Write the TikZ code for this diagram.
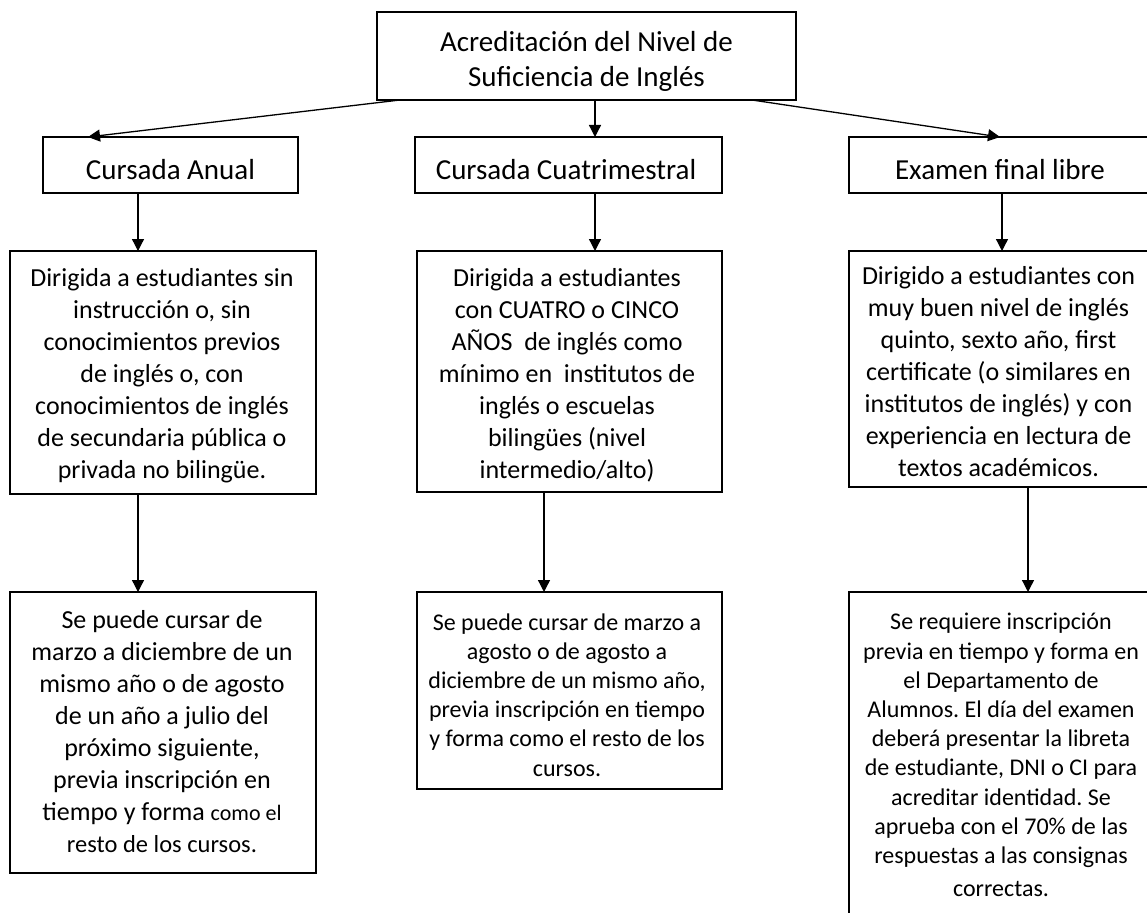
\documentclass[tikz,border=0pt]{standalone}
\usepackage{fontspec}
\setmainfont{Carlito}
\usetikzlibrary{arrows.meta}
\frenchspacing
\newcommand\szBig{\fontsize{29}{35}\selectfont}
\newcommand\szMid{\fontsize{26}{32}\selectfont}
\newcommand\szSml{\fontsize{24}{29.2}\selectfont}
\newcommand\szTiny{\fontsize{22}{32}\selectfont}
\newcommand\szRest{\fontsize{24.5}{32}\selectfont}
\begin{document}
\begin{tikzpicture}[x=1pt,y=-1pt,
  box/.style={draw=black, line width=1.5pt, rectangle, inner sep=0pt, outer sep=0pt, anchor=north west},
  txt/.style={inner sep=0pt, outer sep=0pt, align=center, anchor=north, text=black},
  arr/.style={draw=black, line width=1.3pt, -{Triangle[length=12pt,width=12pt]}}]
\useasboundingbox (0,0) rectangle (1147,912);
\clip (0,0) rectangle (1147,912);
\fill[white] (0,0) rectangle (1147,912);
% boxes
\node[box, minimum width=419pt, minimum height=88pt] (T) at (377,12) {};
\node[box, minimum width=255pt, minimum height=56pt] (A) at (43,137) {};
\node[box, minimum width=307pt, minimum height=56pt] (B) at (415,137) {};
\node[box, minimum width=302pt, minimum height=56pt] (C) at (849,137) {};
\node[box, minimum width=306pt, minimum height=243pt] (D) at (10,251) {};
\node[box, minimum width=305pt, minimum height=241pt] (E) at (417,251) {};
\node[box, minimum width=306pt, minimum height=236pt] (F) at (849,251) {};
\node[box, minimum width=306pt, minimum height=281pt] (G) at (10,592) {};
\node[box, minimum width=305pt, minimum height=197pt] (H) at (417,592) {};
\node[box, minimum width=306pt, minimum height=340pt] (I) at (849,592) {};
% texts
\node[txt, font=\szBig] (tT) at (586.5,27.5) {\strut Acreditación del Nivel de\\Suficiencia de Inglés};
\node[txt, font=\szBig] (tA) at (170.5,155) {\strut Cursada Anual};
\node[txt, font=\szBig] (tB) at (566,155) {\strut Cursada Cuatrimestral};
\node[txt, font=\szBig] (tC) at (1000,155) {\strut Examen final libre};
\node[txt, font=\szMid] (tD) at (162,263.6) {\strut Dirigida a estudiantes sin\\instrucción o, sin\\conocimientos previos\\de inglés o, con\\conocimientos de inglés\\de secundaria pública o\\privada no bilingüe.};
\node[txt, font=\szMid] (tE) at (567,263.6) {\strut Dirigida a estudiantes\\con CUATRO o CINCO\\AÑOS\ \ de inglés como\\mínimo en\ \ institutos de\\inglés o escuelas\\bilingües (nivel\\intermedio/alto)};
\node[txt, font=\szMid] (tF) at (998.5,262) {\strut Dirigido a estudiantes con\\muy buen nivel de inglés\\quinto, sexto año, first\\certificate (o similares en\\institutos de inglés) y con\\experiencia en lectura de\\textos académicos.};
\node[txt, font=\szMid] (tG) at (162,605.6) {\strut Se puede cursar de\\marzo a diciembre de un\\mismo año o de agosto\\de un año a julio del\\próximo siguiente,\\previa inscripción en\\tiempo y forma {\szTiny como el}\\\szRest resto de los cursos.};
\node[txt, font=\szSml] (tH) at (567,609.7) {\strut Se puede cursar de marzo a\\agosto o de agosto a\\diciembre de un mismo año,\\previa inscripción en tiempo\\y forma como el resto de los\\cursos.};
\node[txt, font=\szSml] (tI) at (1001,609.4) {\strut Se requiere inscripción\\previa en tiempo y forma en\\el Departamento de\\Alumnos. El día del examen\\deberá presentar la libreta\\de estudiante, DNI o CI para\\acreditar identidad. Se\\aprueba con el 70\% de las\\respuestas a las consignas\\[4pt]correctas.};
% connectors
\draw[arr] ([xshift=23pt]T.south west) -- ([xshift=45pt]A.north west);
\draw[arr] ([xshift=8.5pt]T.south) -- ([xshift=8.5pt]T.south |- B.north);
\draw[arr] ([xshift=-44pt]T.south east) -- ([xshift=151pt]C.north west);
\draw[arr] ([xshift=-32.5pt]A.south) -- ([xshift=-32.5pt]A.south |- D.north);
\draw[arr] ([xshift=26.5pt]B.south) -- ([xshift=26.5pt]B.south |- E.north);
\draw[arr] ([xshift=2pt]C.south) -- ([xshift=2pt]C.south |- F.north);
\draw[arr] ([xshift=-25pt]D.south) -- ([xshift=-25pt]D.south |- G.north);
\draw[arr] ([xshift=-25.5pt]E.south) -- ([xshift=-25.5pt]E.south |- H.north);
\draw[arr] ([xshift=26pt]F.south) -- ([xshift=26pt]F.south |- I.north);
\end{tikzpicture}
\end{document}
